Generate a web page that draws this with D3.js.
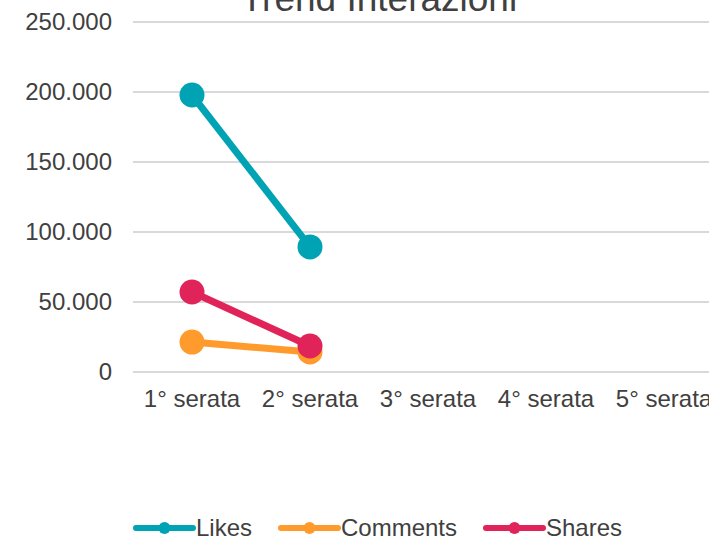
<!DOCTYPE html>
<html lang="it">
<head>
<meta charset="UTF-8">
<title>Trend Interazioni</title>
<style>
  body { margin: 0; background: #fff; }
  text { font-family: "Liberation Sans", Arial, sans-serif; fill: #404040; }
</style>
</head>
<body>
<script src="https://d3js.org/d3.v7.min.js"></script>
<script>
  var categories = ["1° serata", "2° serata", "3° serata", "4° serata", "5° serata"];
  var seriesNames = ["Likes", "Comments", "Shares"];
  var seriesColors = ["#00A3B4", "#FF9A2C", "#E0245A"];
  var likes = [197500, 89000];
  var comments = [21000, 14000];
  var shares = [56800, 18200];
  var yTicks = [0, 50000, 100000, 150000, 200000, 250000];

  var W = 709, H = 537;
  var svg = d3.select("body").append("svg").attr("width", W).attr("height", H);

  var x = d3.scaleBand().domain(categories).range([133, 723]);
  var y = d3.scaleLinear().domain([0, 250000]).range([371.5, 21.5]);
  var fmt = function (d) { return d3.format(",")(d).replace(/,/g, "."); };

  // titolo (tagliato in alto come nell'originale)
  svg.append("text").attr("x", 379).attr("y", 11)
    .attr("text-anchor", "middle").style("font-size", "37px")
    .text("Trend Interazioni");

  // griglia + etichette asse y
  var yAxis = d3.axisLeft(y).tickValues(yTicks).tickFormat(fmt)
    .tickSize(-(W - 133)).tickPadding(21);
  var gy = svg.append("g").attr("transform", "translate(133,0)").call(yAxis);
  gy.select(".domain").remove();
  gy.selectAll(".tick line").attr("stroke", "#D9D9D9").attr("stroke-width", 2);
  gy.selectAll(".tick text").style("font-size", "24px").attr("fill", "#404040")
    .attr("font-family", "Liberation Sans, Arial, sans-serif");

  // asse x
  var xAxis = d3.axisBottom(x).tickSize(0).tickPadding(18);
  var gx = svg.append("g").attr("transform", "translate(0,371.5)").call(xAxis);
  gx.select(".domain").remove();
  gx.selectAll(".tick text").style("font-size", "24px").attr("fill", "#404040")
    .attr("font-family", "Liberation Sans, Arial, sans-serif");

  var data = [likes, comments, shares];
  var line = d3.line()
    .x(function (d, i) { return x(categories[i]) + x.bandwidth() / 2; })
    .y(function (d) { return y(d); });

  // serie: Likes, Comments, Shares (Shares sopra)
  data.forEach(function (vals, s) {
    var g = svg.append("g");
    g.append("path").datum(vals).attr("d", line)
      .attr("fill", "none").attr("stroke", seriesColors[s])
      .attr("stroke-width", 7).attr("stroke-linejoin", "round");
    g.selectAll("circle").data(vals).enter().append("circle")
      .attr("cx", function (d, i) { return x(categories[i]) + x.bandwidth() / 2; })
      .attr("cy", function (d) { return y(d); })
      .attr("r", 12.5).attr("fill", seriesColors[s]);
  });

  // legenda
  var legendX = [136, 281, 486];
  var leg = svg.append("g").attr("transform", "translate(0,528)");
  seriesNames.forEach(function (name, s) {
    var g = leg.append("g").attr("transform", "translate(" + legendX[s] + ",0)");
    g.append("line").attr("x1", 0).attr("x2", 57).attr("y1", 0).attr("y2", 0)
      .attr("stroke", seriesColors[s]).attr("stroke-width", 6).attr("stroke-linecap", "round");
    g.append("circle").attr("cx", 28.5).attr("cy", 0).attr("r", 6).attr("fill", seriesColors[s]);
    g.append("text").attr("x", 60).attr("y", 8).style("font-size", "24px").text(name);
  });
</script>
</body>
</html>
